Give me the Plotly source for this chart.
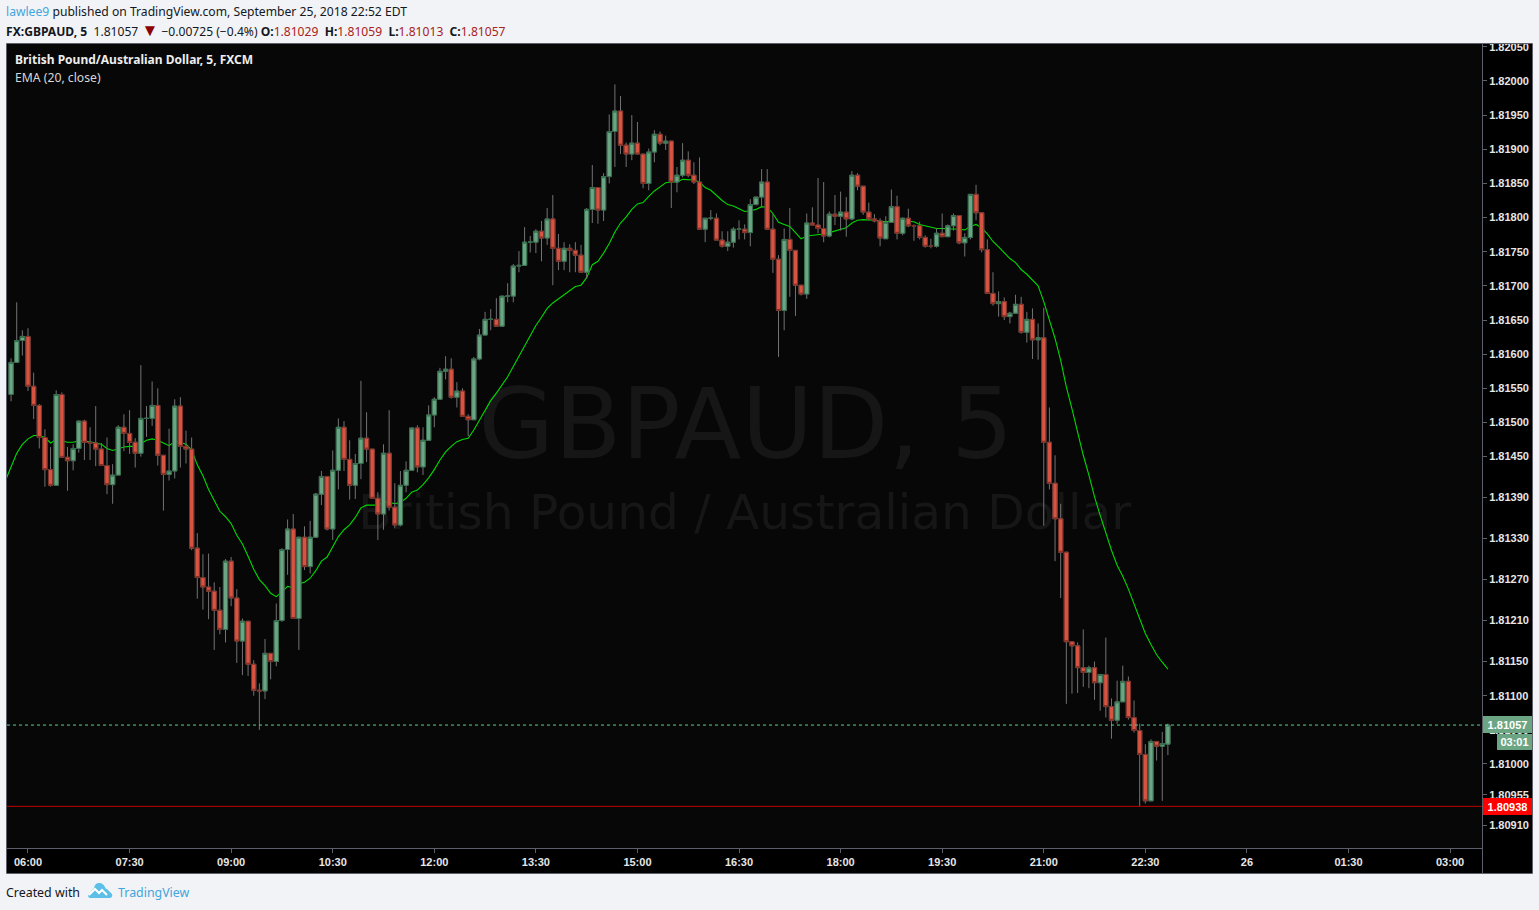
import numpy as np
import pandas as pd
import plotly.graph_objects as go

opens = [
    1.81541, 1.81588, 1.81620, 1.81626, 1.81553, 1.81525, 1.81478, 1.81431, 1.81408, 1.81541,
    1.81449, 1.81444, 1.81462, 1.81502, 1.81471, 1.81470, 1.81461, 1.81437, 1.81409, 1.81423,
    1.81493, 1.81484, 1.81471, 1.81455, 1.81506, 1.81506, 1.81525, 1.81452, 1.81424, 1.81429,
    1.81524, 1.81465, 1.81461, 1.81316, 1.81273, 1.81259, 1.81253, 1.81225, 1.81197, 1.81297,
    1.81243, 1.81180, 1.81209, 1.81146, 1.81108, 1.81107, 1.81162, 1.81150, 1.81210, 1.81314,
    1.81344, 1.81213, 1.81332, 1.81289, 1.81332, 1.81395, 1.81421, 1.81344, 1.81430, 1.81493,
    1.81446, 1.81408, 1.81440, 1.81477, 1.81461, 1.81389, 1.81366, 1.81455, 1.81376, 1.81350,
    1.81408, 1.81430, 1.81492, 1.81435, 1.81474, 1.81511, 1.81534, 1.81575, 1.81578, 1.81537,
    1.81546, 1.81509, 1.81504, 1.81593, 1.81628, 1.81651, 1.81651, 1.81641, 1.81685, 1.81685,
    1.81729, 1.81730, 1.81764, 1.81764, 1.81780, 1.81770, 1.81798, 1.81755, 1.81736, 1.81755,
    1.81752, 1.81745, 1.81720, 1.81812, 1.81844, 1.81811, 1.81860, 1.81926, 1.81956, 1.81906,
    1.81893, 1.81909, 1.81893, 1.81850, 1.81896, 1.81922, 1.81909, 1.81912, 1.81852, 1.81862,
    1.81884, 1.81862, 1.81852, 1.81783, 1.81799, 1.81799, 1.81767, 1.81758, 1.81764, 1.81783,
    1.81783, 1.81778, 1.81819, 1.81830, 1.81852, 1.81783, 1.81739, 1.81664, 1.81768, 1.81752,
    1.81701, 1.81688, 1.81792, 1.81789, 1.81784, 1.81773, 1.81805, 1.81802, 1.81808, 1.81798,
    1.81862, 1.81846, 1.81808, 1.81798, 1.81795, 1.81769, 1.81793, 1.81816, 1.81777, 1.81799,
    1.81788, 1.81788, 1.81771, 1.81758, 1.81758, 1.81777, 1.81772, 1.81788, 1.81803, 1.81763,
    1.81771, 1.81834, 1.81807, 1.81753, 1.81689, 1.81674, 1.81677, 1.81655, 1.81660, 1.81673,
    1.81632, 1.81651, 1.81621, 1.81624, 1.81471, 1.81411, 1.81359, 1.81310, 1.81179, 1.81173,
    1.81141, 1.81134, 1.81141, 1.81119, 1.81131, 1.81084, 1.81064, 1.81091, 1.81121, 1.81068,
    1.81049, 1.81014, 1.80946, 1.81033, 1.81026, 1.81029,
]
highs = [
    1.81594, 1.81676, 1.81635, 1.81638, 1.81573, 1.81527, 1.81490, 1.81464, 1.81547, 1.81544,
    1.81464, 1.81468, 1.81503, 1.81504, 1.81493, 1.81524, 1.81470, 1.81478, 1.81439, 1.81496,
    1.81512, 1.81518, 1.81477, 1.81584, 1.81524, 1.81560, 1.81550, 1.81452, 1.81491, 1.81534,
    1.81537, 1.81488, 1.81478, 1.81338, 1.81307, 1.81308, 1.81266, 1.81259, 1.81300, 1.81303,
    1.81256, 1.81213, 1.81209, 1.81152, 1.81118, 1.81183, 1.81162, 1.81235, 1.81316, 1.81358,
    1.81366, 1.81332, 1.81348, 1.81356, 1.81397, 1.81429, 1.81421, 1.81459, 1.81506, 1.81502,
    1.81474, 1.81454, 1.81561, 1.81515, 1.81461, 1.81398, 1.81468, 1.81518, 1.81411, 1.81429,
    1.81443, 1.81492, 1.81496, 1.81493, 1.81525, 1.81537, 1.81580, 1.81597, 1.81594, 1.81559,
    1.81550, 1.81512, 1.81596, 1.81637, 1.81662, 1.81666, 1.81682, 1.81685, 1.81704, 1.81732,
    1.81751, 1.81786, 1.81773, 1.81783, 1.81795, 1.81814, 1.81833, 1.81776, 1.81764, 1.81761,
    1.81764, 1.81760, 1.81814, 1.81877, 1.81844, 1.81865, 1.81951, 1.81995, 1.81978, 1.81910,
    1.81950, 1.81940, 1.81893, 1.81901, 1.81928, 1.81926, 1.81920, 1.81912, 1.81874, 1.81909,
    1.81897, 1.81881, 1.81888, 1.81799, 1.81811, 1.81806, 1.81780, 1.81780, 1.81786, 1.81796,
    1.81790, 1.81827, 1.81830, 1.81871, 1.81871, 1.81805, 1.81745, 1.81784, 1.81814, 1.81752,
    1.81701, 1.81806, 1.81815, 1.81858, 1.81852, 1.81809, 1.81833, 1.81838, 1.81830, 1.81868,
    1.81865, 1.81846, 1.81822, 1.81805, 1.81799, 1.81802, 1.81841, 1.81832, 1.81800, 1.81813,
    1.81790, 1.81794, 1.81774, 1.81769, 1.81784, 1.81806, 1.81790, 1.81806, 1.81803, 1.81777,
    1.81834, 1.81848, 1.81807, 1.81768, 1.81720, 1.81692, 1.81683, 1.81662, 1.81687, 1.81684,
    1.81662, 1.81667, 1.81645, 1.81668, 1.81522, 1.81452, 1.81381, 1.81311, 1.81179, 1.81178,
    1.81197, 1.81144, 1.81150, 1.81132, 1.81185, 1.81096, 1.81122, 1.81144, 1.81128, 1.81093,
    1.81059, 1.81029, 1.81036, 1.81033, 1.81047, 1.81059,
]
lows = [
    1.81531, 1.81588, 1.81598, 1.81546, 1.81505, 1.81462, 1.81406, 1.81406, 1.81408, 1.81449,
    1.81400, 1.81430, 1.81456, 1.81445, 1.81445, 1.81436, 1.81437, 1.81395, 1.81381, 1.81423,
    1.81458, 1.81454, 1.81434, 1.81450, 1.81479, 1.81495, 1.81437, 1.81371, 1.81415, 1.81418,
    1.81434, 1.81440, 1.81313, 1.81242, 1.81226, 1.81212, 1.81167, 1.81190, 1.81178, 1.81231,
    1.81148, 1.81130, 1.81129, 1.81100, 1.81050, 1.81095, 1.81124, 1.81143, 1.81208, 1.81277,
    1.81213, 1.81167, 1.81284, 1.81279, 1.81331, 1.81379, 1.81342, 1.81328, 1.81402, 1.81429,
    1.81387, 1.81388, 1.81417, 1.81442, 1.81389, 1.81328, 1.81343, 1.81371, 1.81345, 1.81348,
    1.81398, 1.81430, 1.81427, 1.81423, 1.81474, 1.81493, 1.81534, 1.81563, 1.81535, 1.81522,
    1.81509, 1.81480, 1.81504, 1.81591, 1.81628, 1.81635, 1.81641, 1.81641, 1.81676, 1.81676,
    1.81720, 1.81730, 1.81749, 1.81748, 1.81736, 1.81760, 1.81701, 1.81723, 1.81723, 1.81720,
    1.81720, 1.81720, 1.81711, 1.81792, 1.81791, 1.81795, 1.81850, 1.81874, 1.81893, 1.81874,
    1.81884, 1.81893, 1.81843, 1.81840, 1.81881, 1.81906, 1.81899, 1.81814, 1.81837, 1.81859,
    1.81859, 1.81849, 1.81783, 1.81764, 1.81796, 1.81767, 1.81756, 1.81751, 1.81756, 1.81768,
    1.81768, 1.81758, 1.81818, 1.81815, 1.81783, 1.81719, 1.81596, 1.81635, 1.81684, 1.81656,
    1.81686, 1.81681, 1.81789, 1.81777, 1.81764, 1.81771, 1.81789, 1.81781, 1.81772, 1.81796,
    1.81840, 1.81804, 1.81796, 1.81793, 1.81758, 1.81769, 1.81793, 1.81768, 1.81774, 1.81786,
    1.81766, 1.81768, 1.81756, 1.81755, 1.81756, 1.81772, 1.81772, 1.81781, 1.81761, 1.81743,
    1.81768, 1.81796, 1.81749, 1.81689, 1.81671, 1.81655, 1.81650, 1.81645, 1.81660, 1.81630,
    1.81617, 1.81593, 1.81592, 1.81349, 1.81402, 1.81297, 1.81243, 1.81088, 1.81103, 1.81104,
    1.81113, 1.81111, 1.81094, 1.81078, 1.81068, 1.81037, 1.81059, 1.81091, 1.81065, 1.81046,
    1.80938, 1.80942, 1.80946, 1.81005, 1.80946, 1.81013,
]
closes = [
    1.81588, 1.81620, 1.81626, 1.81553, 1.81525, 1.81478, 1.81431, 1.81408, 1.81541, 1.81449,
    1.81444, 1.81462, 1.81502, 1.81471, 1.81470, 1.81461, 1.81437, 1.81409, 1.81423, 1.81493,
    1.81484, 1.81471, 1.81455, 1.81506, 1.81506, 1.81525, 1.81452, 1.81424, 1.81429, 1.81524,
    1.81465, 1.81461, 1.81316, 1.81273, 1.81259, 1.81253, 1.81225, 1.81197, 1.81297, 1.81243,
    1.81180, 1.81209, 1.81146, 1.81108, 1.81107, 1.81162, 1.81150, 1.81210, 1.81314, 1.81344,
    1.81213, 1.81332, 1.81289, 1.81332, 1.81395, 1.81421, 1.81344, 1.81430, 1.81493, 1.81446,
    1.81408, 1.81440, 1.81477, 1.81461, 1.81389, 1.81366, 1.81455, 1.81376, 1.81350, 1.81408,
    1.81430, 1.81492, 1.81435, 1.81474, 1.81511, 1.81534, 1.81575, 1.81578, 1.81537, 1.81546,
    1.81509, 1.81504, 1.81593, 1.81628, 1.81651, 1.81651, 1.81641, 1.81685, 1.81685, 1.81729,
    1.81730, 1.81764, 1.81764, 1.81780, 1.81770, 1.81798, 1.81755, 1.81736, 1.81755, 1.81752,
    1.81745, 1.81720, 1.81812, 1.81844, 1.81811, 1.81860, 1.81926, 1.81956, 1.81906, 1.81893,
    1.81909, 1.81893, 1.81850, 1.81896, 1.81922, 1.81909, 1.81912, 1.81852, 1.81862, 1.81884,
    1.81862, 1.81852, 1.81783, 1.81799, 1.81799, 1.81767, 1.81758, 1.81764, 1.81783, 1.81783,
    1.81778, 1.81819, 1.81830, 1.81852, 1.81783, 1.81739, 1.81664, 1.81768, 1.81752, 1.81701,
    1.81688, 1.81792, 1.81789, 1.81784, 1.81773, 1.81805, 1.81802, 1.81808, 1.81798, 1.81862,
    1.81846, 1.81808, 1.81798, 1.81795, 1.81770, 1.81793, 1.81816, 1.81777, 1.81799, 1.81788,
    1.81788, 1.81771, 1.81758, 1.81758, 1.81777, 1.81772, 1.81788, 1.81803, 1.81763, 1.81771,
    1.81834, 1.81807, 1.81753, 1.81689, 1.81674, 1.81677, 1.81655, 1.81660, 1.81673, 1.81632,
    1.81651, 1.81621, 1.81624, 1.81471, 1.81411, 1.81359, 1.81310, 1.81179, 1.81173, 1.81141,
    1.81134, 1.81141, 1.81119, 1.81131, 1.81084, 1.81064, 1.81091, 1.81121, 1.81068, 1.81049,
    1.81014, 1.80946, 1.81033, 1.81026, 1.81030, 1.81057,
]

# EMA, first value is one bar before the first candle
ema20 = [
    1.81415, 1.81435, 1.81455, 1.81468, 1.81476, 1.81481, 1.81481, 1.81478, 1.81470, 1.81475,
    1.81473, 1.81471, 1.81471, 1.81473, 1.81473, 1.81472, 1.81470, 1.81468, 1.81462, 1.81459,
    1.81462, 1.81464, 1.81465, 1.81465, 1.81469, 1.81474, 1.81476, 1.81474, 1.81470, 1.81466,
    1.81472, 1.81471, 1.81468, 1.81460, 1.81438, 1.81422, 1.81402, 1.81387, 1.81370, 1.81362,
    1.81352, 1.81335, 1.81322, 1.81304, 1.81285, 1.81270, 1.81261, 1.81250, 1.81245, 1.81252,
    1.81260, 1.81258, 1.81264, 1.81266, 1.81272, 1.81283, 1.81297, 1.81303, 1.81318, 1.81333,
    1.81343, 1.81350, 1.81361, 1.81375, 1.81379, 1.81379, 1.81379, 1.81383, 1.81383, 1.81381,
    1.81383, 1.81389, 1.81398, 1.81401, 1.81409, 1.81419, 1.81431, 1.81445, 1.81457, 1.81465,
    1.81472, 1.81475, 1.81477, 1.81489, 1.81504, 1.81519, 1.81532, 1.81543, 1.81555, 1.81567,
    1.81582, 1.81597, 1.81614, 1.81628, 1.81642, 1.81654, 1.81667, 1.81675, 1.81681, 1.81688,
    1.81694, 1.81699, 1.81701, 1.81712, 1.81731, 1.81736, 1.81748, 1.81762, 1.81779, 1.81792,
    1.81801, 1.81812, 1.81820, 1.81822, 1.81831, 1.81839, 1.81845, 1.81851, 1.81852, 1.81852,
    1.81856, 1.81856, 1.81855, 1.81852, 1.81844, 1.81840, 1.81832, 1.81825, 1.81819, 1.81817,
    1.81813, 1.81809, 1.81810, 1.81812, 1.81816, 1.81815, 1.81806, 1.81793, 1.81790, 1.81787,
    1.81778, 1.81769, 1.81773, 1.81774, 1.81774, 1.81776, 1.81778, 1.81780, 1.81783, 1.81785,
    1.81792, 1.81796, 1.81797, 1.81797, 1.81796, 1.81795, 1.81794, 1.81795, 1.81796, 1.81795,
    1.81794, 1.81794, 1.81790, 1.81788, 1.81785, 1.81784, 1.81784, 1.81784, 1.81784, 1.81783,
    1.81782, 1.81787, 1.81790, 1.81785, 1.81776, 1.81765, 1.81757, 1.81749, 1.81740, 1.81734,
    1.81724, 1.81717, 1.81708, 1.81700, 1.81677, 1.81650, 1.81623, 1.81591, 1.81552, 1.81520,
    1.81486, 1.81452, 1.81423, 1.81391, 1.81364, 1.81337, 1.81313, 1.81291, 1.81275, 1.81256,
    1.81235, 1.81213, 1.81191, 1.81175, 1.81160, 1.81149, 1.81139,
]

ytick_vals = [1.82050, 1.82000, 1.81950, 1.81900, 1.81850, 1.81800, 1.81750, 1.81700, 1.81650,
              1.81600, 1.81550, 1.81500, 1.81450, 1.81390, 1.81330, 1.81270, 1.81210, 1.81150,
              1.81100, 1.81050, 1.81000, 1.80955, 1.80910]
xtick_times = ["2018-09-25 06:00", "2018-09-25 07:30", "2018-09-25 09:00", "2018-09-25 10:30",
               "2018-09-25 12:00", "2018-09-25 13:30", "2018-09-25 15:00", "2018-09-25 16:30",
               "2018-09-25 18:00", "2018-09-25 19:30", "2018-09-25 21:00", "2018-09-25 22:30",
               "2018-09-26 00:00", "2018-09-26 01:30", "2018-09-26 03:00"]
xtick_text = ["06:00", "07:30", "09:00", "10:30", "12:00", "13:30", "15:00", "16:30",
              "18:00", "19:30", "21:00", "22:30", "26", "01:30", "03:00"]

last_price = 1.81057
level_price = 1.80938

UP = "#6BA583"
DOWN = "#D75442"
UP_BORDER = "#2F6B48"
DOWN_BORDER = "#7A2A20"
WICK = "#737375"
BG = "#070707"
PAGE = "#F1F3F6"
TEXT_FONT = "Noto Sans"
AXIS_FONT = "Liberation Sans"

W, H = 1539, 910
LEFT, RIGHT, TOP, BOTTOM = 7, 1482, 43, 848


def px(x):
    return (x - LEFT) / (RIGHT - LEFT)


def py(y):
    return (BOTTOM - y) / (BOTTOM - TOP)


times = pd.date_range("2018-09-25 05:45", periods=len(opens), freq="5min")
ema_times = pd.date_range("2018-09-25 05:40", periods=len(ema20), freq="5min")
x_range = ["2018-09-25 05:41:24", "2018-09-26 03:28:18"]
y_range = [1.80877, 1.820556]

body_high = np.maximum(opens, closes)
body_low = np.minimum(opens, closes)

fig = go.Figure()

# watermark and EMA go on the first axes so the candles cover them
fig.add_trace(go.Scatter(
    x=["2018-09-25 16:36"], y=[1.81484], mode="text", text=["GBPAUD, 5"],
    textfont=dict(family="DejaVu Sans", size=98, color="#161616"),
    textposition="middle center", hoverinfo="skip", showlegend=False))
fig.add_trace(go.Scatter(
    x=["2018-09-25 16:35"], y=[1.81362], mode="text", text=["British Pound / Australian Dollar"],
    textfont=dict(family="DejaVu Sans", size=48.6, color="#161616"),
    textposition="middle center", hoverinfo="skip", showlegend=False))
fig.add_trace(go.Scatter(
    x=ema_times, y=ema20, mode="lines", name="EMA (20, close)",
    line=dict(color="#00D800", width=1.1), showlegend=False))

# wicks
fig.add_trace(go.Candlestick(
    x=times, open=opens, high=highs, low=lows, close=closes,
    increasing=dict(line=dict(color=WICK, width=1), fillcolor=WICK),
    decreasing=dict(line=dict(color=WICK, width=1), fillcolor=WICK),
    xaxis="x2", yaxis="y2", hoverinfo="skip", showlegend=False))
# bodies, with their own border colour
fig.add_trace(go.Candlestick(
    x=times, open=opens, high=body_high, low=body_low, close=closes,
    increasing=dict(line=dict(color=UP_BORDER, width=0.9), fillcolor=UP),
    decreasing=dict(line=dict(color=DOWN_BORDER, width=0.9), fillcolor=DOWN),
    xaxis="x2", yaxis="y2", showlegend=False))

shapes = [
    # black axis panels
    dict(type="rect", xref="paper", yref="paper", x0=px(RIGHT), x1=px(1532), y0=py(873), y1=py(TOP),
         fillcolor="#000000", line=dict(width=0), layer="below"),
    dict(type="rect", xref="paper", yref="paper", x0=px(6), x1=px(RIGHT), y0=py(873), y1=py(BOTTOM),
         fillcolor="#000000", line=dict(width=0), layer="below"),
    # price lines
    dict(type="line", xref="paper", yref="y", x0=0, x1=1, y0=last_price, y1=last_price,
         line=dict(color="#5FD08F", width=1, dash="dot")),
    dict(type="line", xref="paper", yref="y", x0=0, x1=1, y0=level_price, y1=level_price,
         line=dict(color="#C00000", width=1)),
    # hides the top of the first tick label
    dict(type="rect", xref="paper", yref="paper", x0=px(RIGHT), x1=px(1533), y0=py(TOP), y1=py(30),
         fillcolor=PAGE, line=dict(width=0)),
    # borders
    dict(type="rect", xref="paper", yref="paper", x0=px(6.5), x1=px(1532.5), y0=py(873.5), y1=py(43.5),
         line=dict(color="#5D606B", width=1)),
    dict(type="line", xref="paper", yref="paper", x0=px(RIGHT + 0.5), x1=px(RIGHT + 0.5), y0=py(873), y1=py(43),
         line=dict(color="#5D606B", width=1)),
    dict(type="line", xref="paper", yref="paper", x0=px(6), x1=px(RIGHT), y0=py(848.5), y1=py(848.5),
         line=dict(color="#5D606B", width=1)),
    # logo
    dict(type="path", xref="paper", yref="paper", xsizemode="pixel", ysizemode="pixel",
         xanchor=px(88), yanchor=py(898),
         path="M 2 0 L 22 0 Q 25 1 24 4 L 19 9 Q 17 9 17 11 Q 15 15 11 15 Q 7 15 6 10 L 1 4 Q -1 1 2 0 Z",
         fillcolor="#5BBFE8", line=dict(width=0)),
    dict(type="path", xref="paper", yref="paper", xsizemode="pixel", ysizemode="pixel",
         xanchor=px(88), yanchor=py(898),
         path="M 1 3 L 7 9 L 11 5 L 14 8 L 19 3",
         line=dict(color="#FFFFFF", width=2)),
]


def note(x, y, text, size=12, color="#131722", family=TEXT_FONT, **kw):
    return dict(xref="paper", yref="paper", x=px(x), y=py(y), text=text, showarrow=False,
                xanchor=kw.pop("xanchor", "left"), yanchor="middle", align=kw.pop("align", "left"),
                font=dict(family=family, size=size, color=color), borderpad=0, borderwidth=0, **kw)


RED = "#A82222"
header2 = ("<b>FX:GBPAUD, 5</b>&nbsp; 1.81057 <span style='color:#8B0000;font-size:17px'>▼</span> −0.00725 (−0.4%) "
           f"<b>O:</b><span style='color:{RED}'>1.81029</span>&nbsp; <b>H:</b><span style='color:{RED}'>1.81059</span>&nbsp; "
           f"<b>L:</b><span style='color:{RED}'>1.81013</span>&nbsp; <b>C:</b><span style='color:{RED}'>1.81057</span>")

annotations = [
    note(6, 12, "<span style='color:#42A5DC'>lawlee9</span> published on TradingView.com, September 25, 2018 22:52 EDT",
         size=12.15),
    note(6, 29.5, header2, size=12.1),
    note(15, 60, "<b>British Pound/Australian Dollar, 5, FXCM</b>", color="#EDEDED"),
    note(15, 77.5, "EMA (20, close)", size=12.2, color="#D8D8D8"),
    note(6, 892, "Created with", size=12.4),
    note(118, 892, "TradingView", size=12.4, color="#42A5DC"),
    note(1483, 724.5, "<b>1.81057</b>", size=11, color="#FFFFFF", family=AXIS_FONT, bgcolor=UP,
         width=49, height=17, align="center"),
    note(1497, 742, "<b>03:01</b>", size=11, color="#FFFFFF", family=AXIS_FONT, bgcolor=UP,
         width=35, height=16, align="center"),
    note(1483, 806.5, "<b>1.80938</b>", size=11, color="#FFFFFF", family=AXIS_FONT, bgcolor="#FF0000",
         width=49, height=17, align="center"),
]

fig.update_layout(
    width=W, height=H, autosize=False,
    margin=dict(l=LEFT, r=W - RIGHT, t=TOP, b=H - BOTTOM),
    paper_bgcolor=PAGE, plot_bgcolor=BG,
    showlegend=False, boxmode="overlay", boxgap=0.25, boxgroupgap=0,
    shapes=shapes, annotations=annotations,
    xaxis=dict(type="date", range=x_range, tickmode="array", tickvals=xtick_times, ticktext=xtick_text,
               showgrid=False, zeroline=False, ticks="outside", ticklen=4, tickcolor="#5D606B",
               tickfont=dict(family=AXIS_FONT, size=11, color="#E6E6E6", weight=700),
               rangeslider=dict(visible=False)),
    yaxis=dict(range=y_range, side="right", tickmode="array", tickvals=ytick_vals,
               ticktext=[f"{v:.5f}" for v in ytick_vals],
               showgrid=False, zeroline=False, ticks="outside", ticklen=4, tickcolor="#5D606B",
               tickfont=dict(family=AXIS_FONT, size=11, color="#E6E6E6", weight=700)),
    xaxis2=dict(type="date", range=x_range, overlaying="x", visible=False, rangeslider=dict(visible=False)),
    yaxis2=dict(range=y_range, overlaying="y", visible=False),
)

# page margin off so the chart sits at the window corner
fig.write_html("out.html", config=dict(displayModeBar=False),
               post_script="document.body.style.margin='0';document.body.style.background='#F1F3F6';")
